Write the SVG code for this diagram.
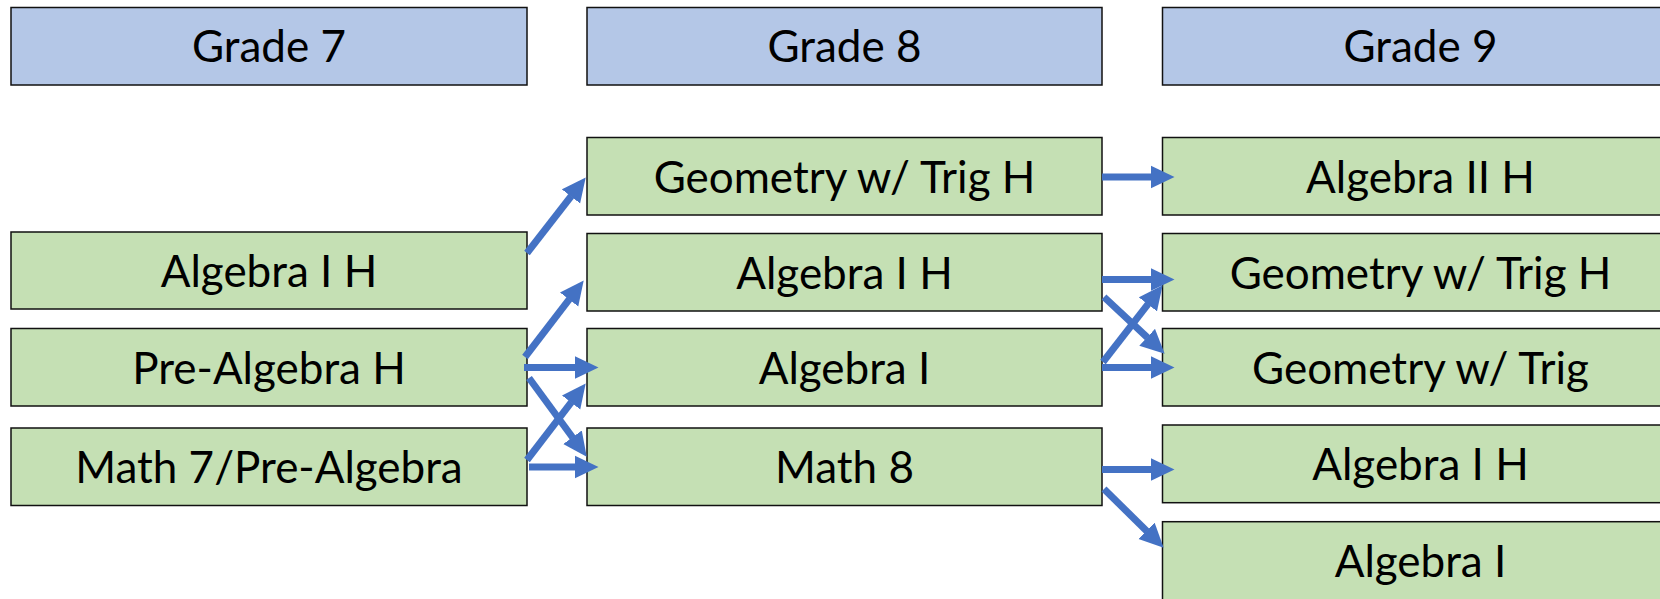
<svg xmlns="http://www.w3.org/2000/svg" width="1660" height="599" viewBox="0 0 1660 599">
<style>
.hdr{fill:#B4C7E7;stroke:#111;stroke-width:1.5}
.box{fill:#C5E0B4;stroke:#111;stroke-width:1.5}
.t{font-family:Lato,"Open Sans","Liberation Sans",sans-serif;font-size:44px;fill:#000;text-anchor:middle}
.c line{stroke:#4472C4;stroke-width:7;marker-end:url(#ah)}
</style>
<defs>
<marker id="ah" markerUnits="userSpaceOnUse" markerWidth="24" markerHeight="24" viewBox="0 0 24 24" refX="0.5" refY="12" orient="auto">
<path d="M0,0.5 L24,12 L0,23.5 z" fill="#4472C4"/>
</marker>
</defs>
<g id="grade7"><rect class="hdr" x="11" y="7.5" width="516" height="77.5"/><text class="t" x="269" y="62">Grade 7</text></g>
<g id="grade8"><rect class="hdr" x="587" y="7.5" width="515" height="77.5"/><text class="t" x="844.5" y="62">Grade 8</text></g>
<g id="grade9"><rect class="hdr" x="1162.5" y="7.5" width="516" height="77.5"/><text class="t" x="1420.5" y="62">Grade 9</text></g>

<g id="g7-alg1h"><rect class="box" x="11" y="232" width="516" height="77"/><text class="t" x="269" y="286.5">Algebra I H</text></g>
<g id="g7-prealgh"><rect class="box" x="11" y="328.5" width="516" height="77.5"/><text class="t" x="269" y="383.5">Pre-Algebra H</text></g>
<g id="g7-math7"><rect class="box" x="11" y="428" width="516" height="77.5"/><text class="t" x="269" y="483">Math 7/Pre-Algebra</text></g>

<g id="g8-geoh"><rect class="box" x="587" y="137.5" width="515" height="77.5"/><text class="t" x="844.5" y="192.5">Geometry w/ Trig H</text></g>
<g id="g8-alg1h"><rect class="box" x="587" y="233.5" width="515" height="77.5"/><text class="t" x="844.5" y="288.5">Algebra I H</text></g>
<g id="g8-alg1"><rect class="box" x="587" y="328.5" width="515" height="77.5"/><text class="t" x="844.5" y="383.5">Algebra I</text></g>
<g id="g8-math8"><rect class="box" x="587" y="428" width="515" height="77.5"/><text class="t" x="844.5" y="483">Math 8</text></g>

<g id="g9-alg2h"><rect class="box" x="1162.5" y="137.5" width="516" height="77.5"/><text class="t" x="1420.5" y="192.5">Algebra II H</text></g>
<g id="g9-geoh"><rect class="box" x="1162.5" y="233.5" width="516" height="77.5"/><text class="t" x="1420.5" y="288.5">Geometry w/ Trig H</text></g>
<g id="g9-geo"><rect class="box" x="1162.5" y="328.5" width="516" height="77.5"/><text class="t" x="1420.5" y="383.5">Geometry w/ Trig</text></g>
<g id="g9-alg1h"><rect class="box" x="1162.5" y="425" width="516" height="77.7"/><text class="t" x="1420.5" y="480">Algebra I H</text></g>
<g id="g9-alg1"><rect class="box" x="1162.5" y="521.7" width="516" height="80"/><text class="t" x="1420.5" y="576.5">Algebra I</text></g>

<g id="connectors" class="c">
<line x1="527" y1="253" x2="571.3" y2="196"/>
<line x1="525" y1="357" x2="569.4" y2="299.1"/>
<line x1="524" y1="367.5" x2="575" y2="367.5"/>
<line x1="529" y1="378" x2="572.8" y2="437.7"/>
<line x1="527" y1="460" x2="571.4" y2="402.1"/>
<line x1="529" y1="467" x2="575" y2="467"/>
<line x1="1102" y1="177" x2="1151" y2="177"/>
<line x1="1102" y1="279.5" x2="1151" y2="279.5"/>
<line x1="1104" y1="297" x2="1147.5" y2="337.6"/>
<line x1="1103" y1="362" x2="1148.2" y2="303.9"/>
<line x1="1102" y1="367.5" x2="1151" y2="367.5"/>
<line x1="1102" y1="469.5" x2="1151" y2="469.5"/>
<line x1="1104" y1="489" x2="1146.9" y2="531.2"/>
</g>
</svg>
